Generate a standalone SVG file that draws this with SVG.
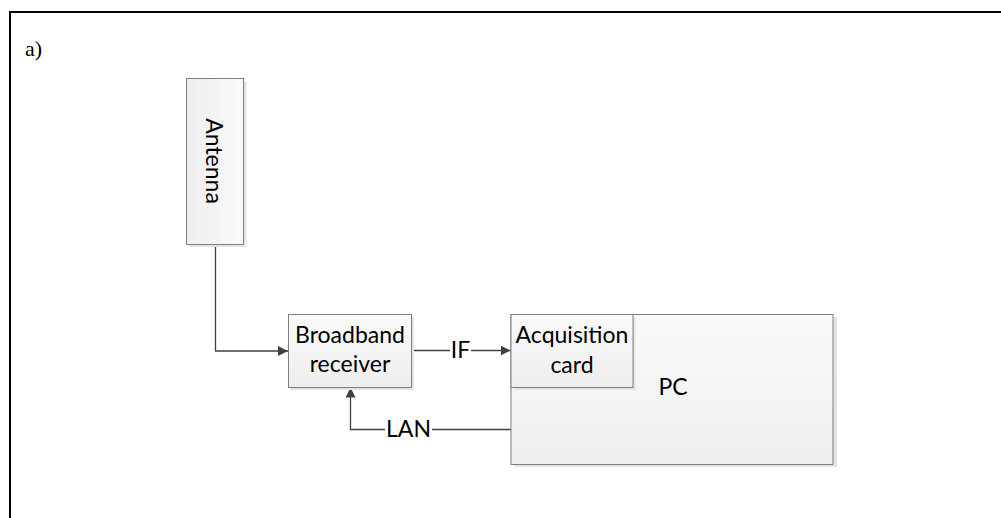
<svg xmlns="http://www.w3.org/2000/svg" width="1001" height="518" viewBox="0 0 1001 518">
  <defs>
    <linearGradient id="gv" x1="0" y1="0" x2="0" y2="1">
      <stop offset="0" stop-color="#fafafa"/>
      <stop offset="1" stop-color="#eeeeee"/>
    </linearGradient>
    <linearGradient id="gh" x1="1" y1="0" x2="0" y2="0">
      <stop offset="0" stop-color="#fafafa"/>
      <stop offset="1" stop-color="#eeeeee"/>
    </linearGradient>
    <marker id="arr" viewBox="0 0 10 10" refX="10" refY="5" markerWidth="10" markerHeight="10" markerUnits="userSpaceOnUse" orient="auto">
      <path d="M0,0 L10,5 L0,10 Z" fill="#404040"/>
    </marker>
    <style>
      .box { stroke: #7f7f7f; stroke-width: 1; }
      .shadow { fill: #e4e4e4; }
      .lbl { font-family: Lato, "Open Sans", sans-serif; font-size: 23px; fill: #000; text-anchor: middle; }
      .conn { fill: none; stroke: #404040; stroke-width: 1.3; }
      .gap { fill: #ffffff; stroke: none; }
    </style>
  </defs>
  <rect x="0" y="0" width="1001" height="518" fill="#ffffff"/>
  <g id="frame">
    <path d="M10,518 L10,12 L1001,12" fill="none" stroke="#000" stroke-width="2"/>
    <text x="25" y="56" font-family="Liberation Serif, serif" font-size="22" fill="#000">a)</text>
  </g>
  <g id="connectors">
    <path class="conn" d="M215.5,244 L215.5,351 L288,351" marker-end="url(#arr)"/>
    <path class="conn" d="M411,350.5 L510.5,350.5" marker-end="url(#arr)"/>
    <rect class="gap" x="450" y="336" width="21" height="28"/>
    <text class="lbl" x="460.5" y="358">IF</text>
    <path class="conn" d="M511,429.5 L350.5,429.5 L350.5,387.5" marker-end="url(#arr)"/>
    <rect class="gap" x="385" y="415" width="47" height="28"/>
    <text class="lbl" x="408.5" y="437">LAN</text>
  </g>
  <g id="antenna">
    <rect class="shadow" x="189.5" y="81" width="57" height="166"/>
    <rect class="box" x="186.5" y="78.5" width="57" height="166" fill="url(#gh)"/>
    <text class="lbl" x="0" y="0" transform="translate(206,161) rotate(90)">Antenna</text>
  </g>
  <g id="receiver">
    <rect class="shadow" x="291" y="317" width="123" height="73"/>
    <rect class="box" x="288.5" y="314.5" width="123" height="73" fill="url(#gv)"/>
    <text class="lbl" x="350" y="343">Broadband</text>
    <text class="lbl" x="350" y="372">receiver</text>
  </g>
  <g id="pc">
    <rect class="shadow" x="514" y="317" width="323" height="150"/>
    <rect class="box" x="511" y="314.5" width="322" height="150" fill="url(#gv)"/>
    <text class="lbl" x="673" y="395">PC</text>
  </g>
  <g id="acquisition">
    <rect class="shadow" x="513.5" y="317" width="122" height="73"/>
    <rect class="box" x="511" y="314.5" width="122" height="73" fill="url(#gv)"/>
    <text class="lbl" x="572" y="343">Acquisition</text>
    <text class="lbl" x="572" y="373">card</text>
  </g>
</svg>
